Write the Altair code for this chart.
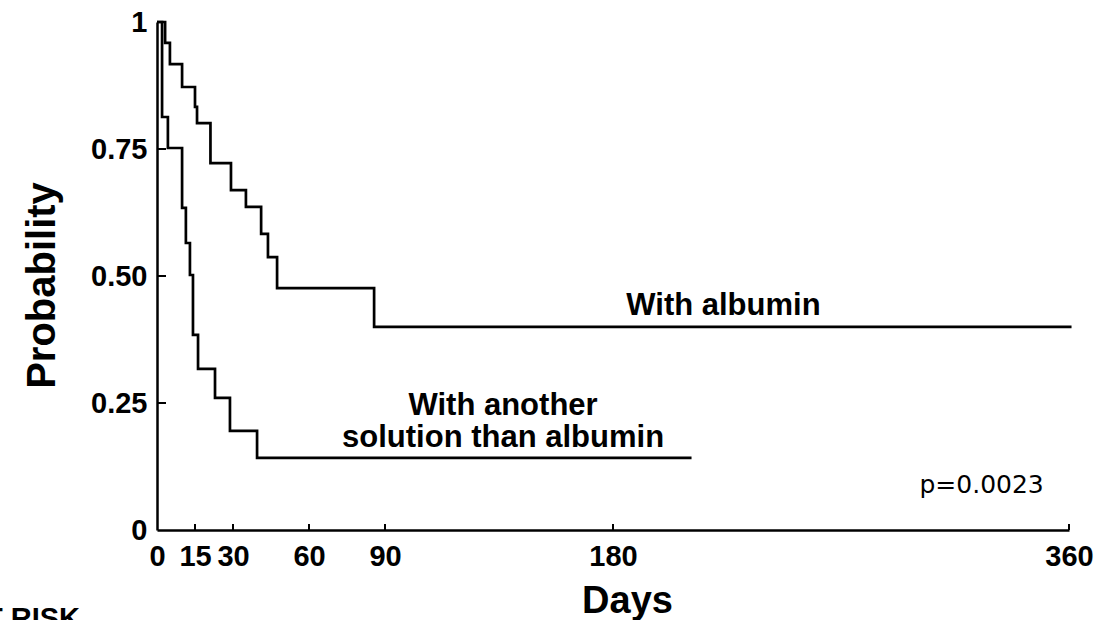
import altair as alt
import pandas as pd

# Kaplan-Meier style step curves
alb_days = [0, 3.2, 5.1, 9.9, 15.0, 15.8, 21.1, 29.2, 35.1, 41.1, 43.8, 47.4, 85.7, 361]
alb_prob = [1.0, 0.959, 0.917, 0.872, 0.833, 0.801, 0.722, 0.669, 0.636, 0.583, 0.537, 0.476, 0.400, 0.400]

oth_days = [0, 2.0, 4.3, 9.9, 11.4, 13.0, 14.2, 16.2, 22.9, 28.8, 39.5, 211]
oth_prob = [1.0, 0.813, 0.752, 0.634, 0.565, 0.502, 0.384, 0.317, 0.260, 0.195, 0.142, 0.142]

x_ticks = [0, 15, 30, 60, 90, 180, 360]
y_ticks = [0, 0.25, 0.5, 0.75, 1]
x_inner_ticks = [15, 30, 60, 90, 180, 360]
y_inner_ticks = [0.25, 0.5, 0.75, 1]

# annotation labels (positions in data units)
ann_text = ["With albumin", "With another", "solution than albumin"]
ann_day = [223.6, 136.6, 136.6]
ann_prob = [0.423, 0.226, 0.163]
p_text = ["p=0.0023"]
p_day = [325.5]
p_prob = [0.073]

W, H = 912, 508
FONT = "Liberation Sans"

curves = pd.DataFrame({
    "day": alb_days + oth_days,
    "prob": alb_prob + oth_prob,
    "group": ["albumin"] * len(alb_days) + ["other"] * len(oth_days),
})

x_enc = alt.X(
    "day:Q",
    scale=alt.Scale(domain=[0, 360], nice=False, zero=True),
    axis=alt.Axis(
        values=x_ticks, ticks=False, grid=False,
        domainColor="black", domainWidth=2.5,
        labelFont=FONT, labelFontWeight="bold", labelFontSize=29,
        labelColor="black", labelPadding=12, labelFlush=False, labelOverlap=False,
        title="Days", titleFont=FONT, titleFontWeight="bold", titleFontSize=38,
        titleColor="black", titleX=470, titleY=82, titleAlign="center",
        titleBaseline="alphabetic",
    ),
)
y_enc = alt.Y(
    "prob:Q",
    scale=alt.Scale(domain=[0, 1], nice=False, zero=True),
    axis=alt.Axis(
        values=y_ticks, ticks=False, grid=False,
        domainColor="black", domainWidth=2.5,
        labelExpr="datum.value == 0 ? '0' : (datum.value == 1 ? '1' : format(datum.value, '.2f'))",
        labelFont=FONT, labelFontWeight="bold", labelFontSize=29,
        labelColor="black", labelPadding=10, labelFlush=False, labelOverlap=False,
        title="Probability", titleFont=FONT, titleFontWeight="bold", titleFontSize=40,
        titleColor="black", titleAngle=270, titleX=-95, titleY=263,
        titleAlign="center", titleBaseline="bottom",
    ),
)

lines = alt.Chart(curves).mark_line(
    interpolate="step-after", color="black", strokeWidth=2.7
).encode(x=x_enc, y=y_enc, detail="group:N")

ytick_rules = alt.Chart(pd.DataFrame({"prob": y_inner_ticks})).mark_rule(
    color="black", strokeWidth=2
).encode(y=alt.Y("prob:Q"), x=alt.value(0), x2=alt.value(9))

xtick_rules = alt.Chart(pd.DataFrame({"day": x_inner_ticks})).mark_rule(
    color="black", strokeWidth=2
).encode(x=alt.X("day:Q"), y=alt.value(H), y2=alt.value(H - 6))

ann = alt.Chart(pd.DataFrame({"label": ann_text, "day": ann_day, "prob": ann_prob})).mark_text(
    font=FONT, fontWeight="bold", fontSize=31, color="black",
    align="center", baseline="alphabetic"
).encode(x=alt.X("day:Q"), y=alt.Y("prob:Q"), text="label:N")

pval = alt.Chart(pd.DataFrame({"label": p_text, "day": p_day, "prob": p_prob})).mark_text(
    font="DejaVu Sans", fontSize=25, color="black",
    align="center", baseline="alphabetic"
).encode(x=alt.X("day:Q"), y=alt.Y("prob:Q"), text="label:N")

risk = alt.Chart(pd.DataFrame({"label": ["AT RISK"]})).mark_text(
    font=FONT, fontWeight="bold", fontSize=29, color="black",
    align="right", baseline="alphabetic"
).encode(x=alt.value(-77), y=alt.value(606), text="label:N")

chart = alt.layer(lines, ytick_rules, xtick_rules, ann, pval, risk).properties(
    width=W, height=H,
    autosize=alt.AutoSizeParams(type="none"),
    padding={"left": 157, "top": 22, "right": 37, "bottom": 90},
).configure_view(stroke=None)

chart.save("out.html", embed_options={"renderer": "svg", "actions": False})
